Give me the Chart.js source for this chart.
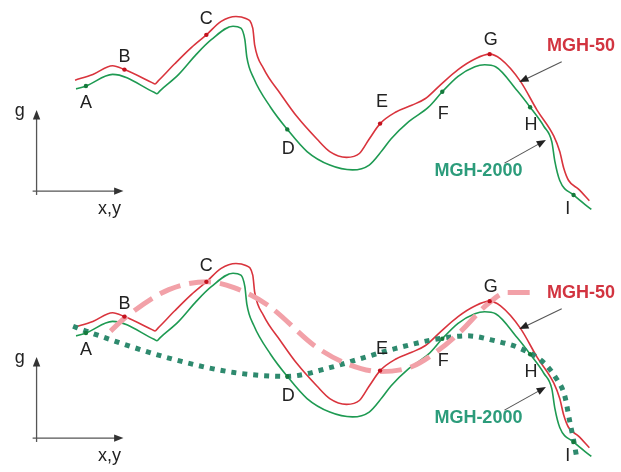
<!DOCTYPE html>
<html>
<head>
<meta charset="utf-8">
<script src="https://cdn.jsdelivr.net/npm/chart.js@4.4.0/dist/chart.umd.min.js"></script>
<style>
  html, body { margin: 0; padding: 0; background: #fff; }
  body { width: 621px; height: 472px; position: relative; overflow: hidden; }
  .panel { position: absolute; left: 0; width: 621px; height: 225px; }
  #topPanel { top: 0; }
  #bottomPanel { top: 247px; }
</style>
</head>
<body>
<div class="panel" id="topPanel"><canvas id="topChart" width="621" height="225"></canvas></div>
<div class="panel" id="bottomPanel"><canvas id="bottomChart" width="621" height="225"></canvas></div>
<script>
// ===============================
// g profile along x,y  -  MGH-50 vs MGH-2000
// ===============================

// solid profiles, [x, g] (g grows downwards on screen)
const mgh50 = [
  [72, 79], [90, 73], [110, 64], [122, 68], [150, 81.5], [153, 83], [156, 80],
  [173, 62], [190, 45], [205, 32], [220, 18], [235, 13], [245, 15], [252, 25],
  [254, 43], [263, 67], [280, 93], [297, 117], [317, 140], [330, 153],
  [347, 159], [360, 155], [370, 140], [381, 124], [397, 112], [413, 105],
  [427, 98], [443, 83], [460, 68], [477, 57], [492, 52], [503, 57],
  [523, 80], [540, 110], [557, 137], [563, 153], [567, 170], [572, 183],
  [582, 192], [593, 204]
];

const mgh2000 = [
  [73, 88], [83, 85], [110, 73], [152, 91.5], [155, 93], [158, 90], [177, 73],
  [195, 52], [210, 37], [232, 23], [240, 25], [244, 37], [246, 55], [253, 77],
  [270, 107], [287, 130], [307, 153], [330, 167], [353, 172], [370, 167],
  [383, 152], [392, 140], [410, 122], [430, 107], [444, 91], [460, 75],
  [477, 65], [487, 63], [498, 65], [520, 90], [533, 107], [547, 127],
  [555, 143], [558, 163], [563, 183], [577, 198], [595, 213]
];

// smoothed trends (lower panel only)
const trend50 = [
  [108, 83], [123, 69], [167, 40], [206, 32], [233, 38], [267, 56], [317, 100],
  [350, 118], [381, 125], [413, 120], [440, 103], [463, 83], [490, 55],
  [510, 43], [538, 43]
];

const trend2000 = [
  [70, 78], [83, 83], [167, 111], [233, 126], [287, 130], [330, 121],
  [363, 111], [397, 101], [440, 91], [470, 88], [497, 93], [523, 101],
  [547, 116], [560, 133], [568, 150], [573, 176], [577, 196], [580, 213]
];

// marked points
const dots50 = [[122, 68], [205, 32], [381, 124], [492, 52]];
const dots2000 = [[83, 85], [287, 130], [444, 91], [533, 107], [577, 198]];

// point letters
const letters = ["A", "B", "C", "D", "E", "F", "G", "H", "I"];
const letterPos = [
  [83, 103], [122, 55], [205, 16], [288, 150], [383, 102],
  [445, 114], [493, 37], [534, 125], [571, 213]
];

const RED = "#d9343d";
const GREEN = "#1e9a52";
const PINK = "#f2a1a8";
const TEAL = "#2e8a6e";

function pts(arr) {
    return arr.map(p => ({ x: p[0], y: p[1] }));
}

function arrow(ctx, x1, y1, x2, y2, head) {
    const a = Math.atan2(y2 - y1, x2 - x1);
    ctx.beginPath();
    ctx.moveTo(x1, y1);
    ctx.lineTo(x2 - Math.cos(a) * head * 0.8, y2 - Math.sin(a) * head * 0.8);
    ctx.stroke();
    ctx.beginPath();
    ctx.moveTo(x2, y2);
    ctx.lineTo(x2 - head * Math.cos(a - 0.38), y2 - head * Math.sin(a - 0.38));
    ctx.lineTo(x2 - head * Math.cos(a + 0.38), y2 - head * Math.sin(a + 0.38));
    ctx.closePath();
    ctx.fill();
}

// letters, legend texts, arrows and the little g / x,y axes
const sketchText = {
    id: "sketchText",
    afterDatasetsDraw(chart) {
        const ctx = chart.ctx;
        const sx = chart.scales.x;
        const sy = chart.scales.y;
        const X = v => sx.getPixelForValue(v);
        const Y = v => sy.getPixelForValue(v);

        ctx.save();

        // axis sketch
        ctx.strokeStyle = "#555";
        ctx.fillStyle = "#333";
        ctx.lineWidth = 1.3;
        arrow(ctx, X(33), Y(198), X(33), Y(110), 10);
        arrow(ctx, X(29), Y(194), X(121), Y(194), 10);

        ctx.textAlign = "center";
        ctx.textBaseline = "middle";
        ctx.fillStyle = "#222";
        ctx.font = "18px 'Liberation Sans', Arial, sans-serif";
        ctx.fillText("g", X(16), Y(111));
        ctx.fillText("x,y", X(107), Y(213));

        letters.forEach((t, i) => {
            ctx.fillText(t, X(letterPos[i][0]), Y(letterPos[i][1]));
        });

        // legend labels
        ctx.font = "bold 18px 'Liberation Sans', Arial, sans-serif";
        ctx.textAlign = "left";
        ctx.fillStyle = "#d23440";
        ctx.fillText("MGH-50", X(550), Y(44));
        ctx.fillStyle = "#2c9c7b";
        ctx.fillText("MGH-2000", X(436), Y(173));

        // pointer arrows
        ctx.strokeStyle = "#555";
        ctx.fillStyle = "#222";
        ctx.lineWidth = 1.1;
        arrow(ctx, X(565), Y(60), X(522), Y(81), 10);
        arrow(ctx, X(507), Y(165), X(549), Y(141), 10);

        ctx.restore();
    }
};

function lineSet(data, color, width, order, dash) {
    return {
        data: pts(data),
        borderColor: color,
        borderWidth: width,
        borderDash: dash || [],
        borderCapStyle: "butt",
        pointRadius: 0,
        fill: false,
        tension: 0.4,
        cubicInterpolationMode: "monotone",
        clip: false,
        order: order
    };
}

function dotSet(data, color) {
    return {
        data: pts(data),
        showLine: false,
        pointRadius: 2.2,
        pointBackgroundColor: color,
        pointBorderWidth: 0,
        clip: false,
        order: 0
    };
}

function makeChart(id, withTrends) {

    const datasets = [
        dotSet(dots50, "#c4121e"),
        dotSet(dots2000, "#157a3c"),
        lineSet(mgh50, RED, 1.6, 2),
        lineSet(mgh2000, GREEN, 1.6, 2)
    ];

    if (withTrends) {
        datasets.push(lineSet(trend50, PINK, 5, 1, [22, 9]));
        datasets.push(lineSet(trend2000, TEAL, 5, 1, [5, 6]));
    }

    return new Chart(document.getElementById(id), {
        type: "line",
        data: { datasets: datasets },
        options: {
            responsive: false,
            animation: false,
            events: [],
            layout: { padding: 0 },
            plugins: {
                legend: { display: false },
                tooltip: { enabled: false }
            },
            scales: {
                x: { type: "linear", min: 0, max: 621, display: false },
                y: { type: "linear", min: 0, max: 225, reverse: true, display: false }
            }
        },
        plugins: [sketchText]
    });
}

makeChart("topChart", false);
makeChart("bottomChart", true);
</script>
</body>
</html>
